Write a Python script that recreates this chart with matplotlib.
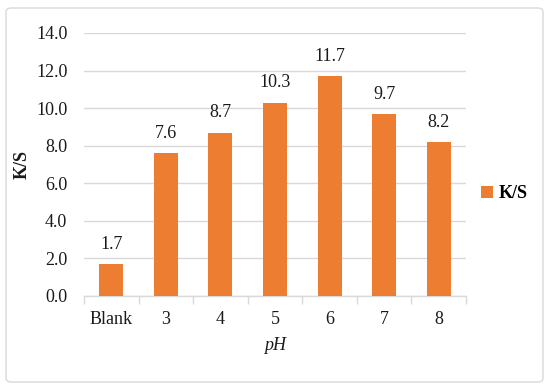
import matplotlib
matplotlib.use("Agg")
import matplotlib.pyplot as plt
from matplotlib.patches import FancyBboxPatch

categories = ["Blank", "3", "4", "5", "6", "7", "8"]
values = [1.7, 7.6, 8.7, 10.3, 11.7, 9.7, 8.2]
series_name = "K/S"
yticks = [0, 2, 4, 6, 8, 10, 12, 14]

plt.rcParams['font.family'] = ['Liberation Serif', 'DejaVu Serif']
fs = 13
orange = "#ED7D31"
tc = "#1a1a1a"

fig = plt.figure(figsize=(5.5, 3.9), dpi=100)
ax = fig.add_axes([84/550, 1-296/390, (466-84)/550, (296-33)/390])

x = list(range(len(categories)))
bars = ax.bar(x, values, width=0.44, color=orange, label=series_name, zorder=3)
for xi, v in zip(x, values):
    ax.annotate(f"{v:.1f}", (xi, v), xytext=(0, 8), textcoords="offset points",
                ha="center", va="bottom", fontsize=fs, color=tc)

ax.set_xlim(-0.5, len(categories)-0.5)
ax.set_ylim(0, 14)
ax.set_yticks(yticks)
ax.set_yticklabels([f"{t:.1f}" for t in yticks], fontsize=fs, color=tc)
ax.yaxis.grid(True, color="#D9D9D9", linewidth=1.0, zorder=0)
ax.set_axisbelow(True)
ax.tick_params(axis="y", length=0, pad=12)

ax.set_xticks(x)
ax.set_xticklabels(categories, fontsize=fs, color=tc)
ax.set_xticks([i - 0.5 for i in range(len(categories)+1)], minor=True)
ax.tick_params(axis="x", which="major", length=0, pad=11)
ax.tick_params(axis="x", which="minor", length=6, color="#D9D9D9", width=1.0, direction="out")

for s in ["top", "right", "left"]:
    ax.spines[s].set_visible(False)
ax.spines["bottom"].set_color("#D9D9D9")
ax.spines["bottom"].set_linewidth(1.0)

ax.set_ylabel("K/S", fontsize=fs, fontweight="bold", labelpad=4, color=tc)
ax.set_xlabel("pH", fontsize=fs, fontstyle="italic", labelpad=6, color=tc)

leg = fig.legend(handles=[bars], labels=[series_name], loc="center left",
                 bbox_to_anchor=(465/550, 1-194/390), frameon=False,
                 fontsize=fs, handlelength=0.65, handleheight=0.65, handletextpad=0.3)
for t in leg.get_texts():
    t.set_fontweight("bold")

border = FancyBboxPatch((6/550, 8/390), (543-6)/550, (382-8)/390,
                        boxstyle="round,pad=0,rounding_size=0.01",
                        transform=fig.transFigure, fill=False,
                        edgecolor="#D9D9D9", linewidth=1.0)
fig.patches.append(border)

fig.savefig("out.png", dpi=100)
